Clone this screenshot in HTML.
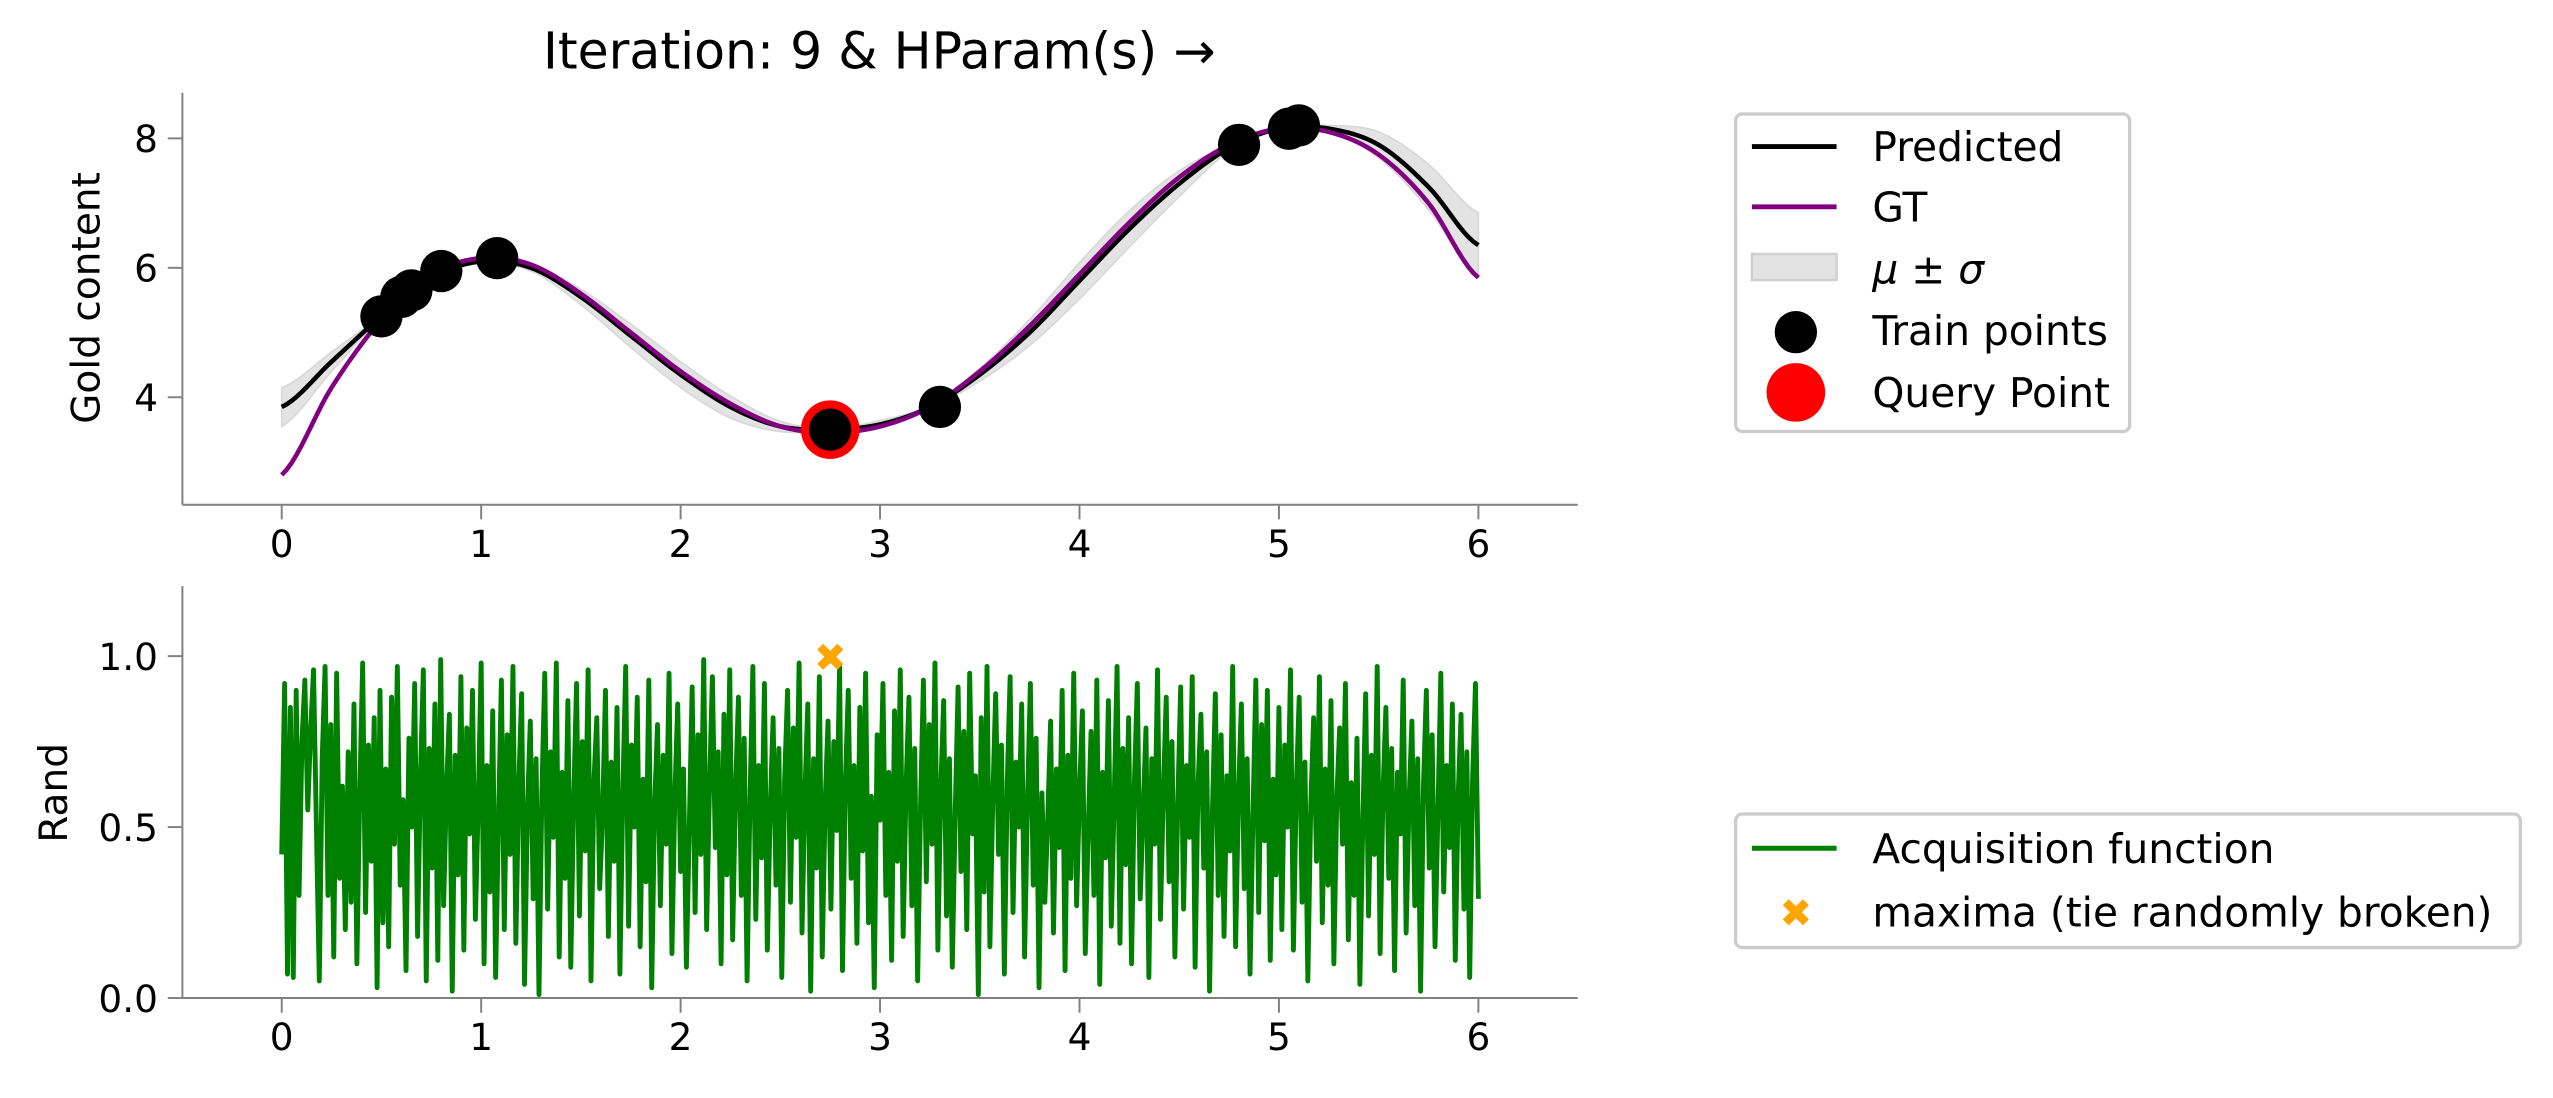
<!DOCTYPE html>
<html><head><meta charset="utf-8"><style>
html,body{margin:0;padding:0;background:#fff;}
svg{display:block;}
text{font-family:"DejaVu Sans","Liberation Sans",sans-serif;fill:#000;}
</style></head><body>
<svg id="chart" width="2553" height="1098" viewBox="0 0 1568 674.4" xmlns="http://www.w3.org/2000/svg">
<text x="540" y="42" font-size="31" text-anchor="middle">Iteration: 9 &amp; HParam(s) →</text>
<g id="top"></g>
<g id="bot"></g>
<text transform="translate(61,183) rotate(-90)" font-size="24" text-anchor="middle">Gold content</text>
<text transform="translate(41,487) rotate(-90)" font-size="24" text-anchor="middle">Rand</text>
<g>
<rect x="1066" y="70" width="242" height="195" rx="4" fill="#fff" stroke="#ccc" stroke-width="2"/>
<line x1="1076" y1="90" x2="1128" y2="90" stroke="#000" stroke-width="3"/>
<text x="1150" y="99" font-size="25">Predicted</text>
<line x1="1076" y1="127" x2="1128" y2="127" stroke="purple" stroke-width="3"/>
<text x="1150" y="136" font-size="25">GT</text>
<rect x="1076" y="156" width="52" height="16" fill="#e3e3e3" stroke="#d0d0d0" stroke-width="1.5"/>
<text x="1150" y="174" font-size="25"><tspan font-style="italic">μ</tspan> ± <tspan font-style="italic">σ</tspan></text>
<circle cx="1103" cy="204" r="13" fill="#000"/>
<text x="1150" y="212" font-size="25">Train points</text>
<circle cx="1103" cy="241" r="18" fill="red"/>
<text x="1150" y="250" font-size="25">Query Point</text>
</g>
<g>
<rect x="1066" y="500" width="482" height="82" rx="4" fill="#fff" stroke="#ccc" stroke-width="2"/>
<line x1="1076" y1="521" x2="1128" y2="521" stroke="green" stroke-width="3"/>
<text x="1150" y="530" font-size="25">Acquisition function</text>
<text x="1103" y="569" font-size="24" text-anchor="middle" font-weight="bold" style="fill:orange">✖</text>
<text x="1150" y="569" font-size="25">maxima (tie randomly broken)</text>
</g>
</svg>
<script>
const gridX = [0,0.25,0.5,0.75,1,1.25,1.5,1.75,2,2.25,2.5,2.75,3,3.25,3.5,3.75,4,4.25,4.5,4.75,5,5.25,5.5,5.75,6];
const gtValues = [2.8,4.15,5.2,5.9,6.15,6.05,5.6,5.0,4.4,3.9,3.55,3.45,3.55,3.85,4.4,5.1,5.9,6.7,7.4,7.9,8.15,8.1,7.75,7.0,5.85];
const predValues = [3.85,4.55,5.25,5.85,6.1,6.0,5.55,4.95,4.35,3.85,3.55,3.5,3.58,3.85,4.35,5.0,5.8,6.6,7.3,7.85,8.15,8.15,7.9,7.25,6.35];
const sigmaValues = [0.3,0.15,0.02,0.03,0.03,0.05,0.12,0.18,0.2,0.17,0.08,0.02,0.06,0.03,0.1,0.2,0.28,0.28,0.2,0.05,0.02,0.05,0.2,0.35,0.5];
const trainX = [0.5,0.6,0.65,0.8,1.08,2.75,3.3,4.8,5.05,5.1];
const trainY = [5.25,5.55,5.65,5.95,6.15,3.5,3.85,7.9,8.15,8.2];
const queryX = [2.75];
const queryY = [3.5];
const topYTicks = [4,6,8];
const xTicks = [0,1,2,3,4,5,6];
const botYTicks = [0.0,0.5,1.0];
const acqValues = [0.42,0.92,0.07,0.85,0.06,0.9,0.3,0.75,0.93,0.55,0.78,0.96,0.5,0.05,0.7,0.97,0.3,0.8,0.12,0.95,0.35,0.62,0.2,0.72,0.28,0.86,0.1,0.6,0.98,0.25,
0.74,0.4,0.82,0.03,0.9,0.22,0.67,0.15,0.88,0.45,0.97,0.33,0.58,0.08,0.76,0.5,0.92,0.18,0.65,0.96,0.05,0.73,0.38,0.86,0.11,0.99,0.27,0.61,0.83,0.02,
0.71,0.36,0.94,0.14,0.79,0.48,0.9,0.23,0.57,0.98,0.1,0.68,0.31,0.84,0.06,0.52,0.93,0.2,0.77,0.42,0.97,0.16,0.62,0.89,0.04,0.55,0.81,0.29,0.7,0.01,
0.6,0.95,0.26,0.72,0.47,0.98,0.12,0.66,0.35,0.87,0.09,0.58,0.92,0.24,0.75,0.43,0.96,0.05,0.63,0.82,0.32,0.53,0.9,0.18,0.69,0.4,0.85,0.07,0.6,0.97,
0.21,0.74,0.5,0.88,0.15,0.64,0.34,0.93,0.03,0.56,0.8,0.27,0.71,0.45,0.95,0.13,0.59,0.86,0.37,0.67,0.09,0.5,0.91,0.25,0.77,0.42,0.99,0.2,0.62,0.94,
0.44,0.72,0.1,0.83,0.36,0.96,0.17,0.61,0.88,0.3,0.76,0.05,0.58,0.97,0.23,0.68,0.41,0.92,0.14,0.55,0.82,0.33,0.73,0.06,0.64,0.9,0.28,0.79,0.47,0.98,
0.19,0.6,0.86,0.02,0.7,0.38,0.94,0.12,0.57,0.81,0.26,0.75,0.49,0.97,0.08,0.63,0.9,0.35,0.68,0.16,0.85,0.43,0.95,0.22,0.59,0.03,0.77,0.52,0.92,0.3,
0.66,0.11,0.84,0.4,0.96,0.18,0.62,0.88,0.27,0.73,0.05,0.56,0.93,0.34,0.8,0.45,0.98,0.14,0.61,0.87,0.24,0.7,0.09,0.54,0.91,0.37,0.78,0.2,0.95,0.48,
0.65,0.01,0.82,0.31,0.97,0.15,0.58,0.89,0.42,0.74,0.07,0.63,0.94,0.25,0.69,0.5,0.86,0.12,0.57,0.92,0.33,0.76,0.03,0.6,0.28,
0.52,0.81,0.19,0.67,0.44,0.9,0.08,0.71,0.35,0.95,0.27,0.6,0.84,0.13,0.49,0.78,0.3,0.93,0.04,0.66,0.41,0.87,0.21,0.58,0.97,0.16,0.73,0.39,0.82,0.1,
0.63,0.92,0.29,0.54,0.79,0.06,0.7,0.45,0.96,0.23,0.6,0.88,0.34,0.75,0.12,0.57,0.91,0.26,0.68,0.47,0.94,0.09,0.62,0.83,0.38,0.72,0.02,0.55,0.89,0.3,
0.77,0.18,0.65,0.43,0.97,0.15,0.59,0.86,0.32,0.7,0.07,0.53,0.93,0.25,0.8,0.46,0.9,0.11,0.64,0.36,0.85,0.2,0.74,0.5,0.96,0.14,0.61,0.88,0.28,0.69,
0.05,0.56,0.82,0.4,0.94,0.22,0.67,0.33,0.87,0.1,0.58,0.79,0.45,0.92,0.17,0.63,0.3,0.76,0.04,0.51,0.89,0.24,0.71,0.42,0.97,0.13,0.6,0.85,0.35,0.73,
0.08,0.66,0.48,0.93,0.19,0.57,0.81,0.27,0.7,0.02,0.62,0.9,0.38,0.77,0.15,0.54,0.95,0.31,0.68,0.44,0.86,0.11,0.59,0.83,0.26,0.72,0.06,0.64,0.92,0.29];
const maxX = [2.75];
const maxY = [1.0];

const NS='http://www.w3.org/2000/svg';
const topG=document.getElementById('top'), botG=document.getElementById('bot');
const X=v=>173+v*122.5;
const YT=v=>244-(v-4)*39.75;
const YB=v=>613-v*210;
function mk(tag,attrs,parent){const e=document.createElementNS(NS,tag);for(const k in attrs)e.setAttribute(k,attrs[k]);parent.appendChild(e);return e;}
function dense(xs,ys,n){const out=[];for(let i=0;i<xs.length-1;i++){const p0=ys[Math.max(0,i-1)],p1=ys[i],p2=ys[i+1],p3=ys[Math.min(ys.length-1,i+2)];for(let k=0;k<n;k++){const t=k/n,t2=t*t,t3=t2*t;const y=0.5*((2*p1)+(-p0+p2)*t+(2*p0-5*p1+4*p2-p3)*t2+(-p0+3*p1-3*p2+p3)*t3);out.push([xs[i]+(xs[i+1]-xs[i])*t,y]);}}out.push([xs[xs.length-1],ys[ys.length-1]]);return out;}

const upper=dense(gridX,predValues.map((v,i)=>v+sigmaValues[i]),10);
const lower=dense(gridX,predValues.map((v,i)=>v-sigmaValues[i]),10);
let d='M'+upper.map(p=>X(p[0]).toFixed(2)+','+YT(p[1]).toFixed(2)).join('L')+'L'+lower.reverse().map(p=>X(p[0]).toFixed(2)+','+YT(p[1]).toFixed(2)).join('L')+'Z';
const band=mk('path',{d:d,fill:'#e3e3e3',stroke:'#d8d8d8','stroke-width':1},topG);


const predPts=dense(gridX,predValues,10);
const pl=mk('polyline',{points:predPts.map(p=>X(p[0]).toFixed(2)+','+YT(p[1]).toFixed(2)).join(' '),fill:'none',stroke:'#000','stroke-width':2.8},topG);


const gtPts=dense(gridX,gtValues,10);
const gl=mk('polyline',{points:gtPts.map(p=>X(p[0]).toFixed(2)+','+YT(p[1]).toFixed(2)).join(' '),fill:'none',stroke:'purple','stroke-width':2.8},topG);


queryX.forEach((x,i)=>{const c=mk('circle',{cx:X(x),cy:YT(queryY[i]),r:18,fill:'red'},topG);

});
trainX.forEach((x,i)=>{const c=mk('circle',{cx:X(x),cy:YT(trainY[i]),r:13,fill:'#000'},topG);

});
mk('line',{x1:112,y1:57,x2:112,y2:310,stroke:'#808080','stroke-width':1.2},topG);
mk('line',{x1:112,y1:310,x2:969,y2:310,stroke:'#808080','stroke-width':1.2},topG);
topYTicks.forEach(v=>{mk('line',{x1:103,y1:YT(v),x2:112,y2:YT(v),stroke:'#808080','stroke-width':1.2},topG);
const t=mk('text',{x:97,y:YT(v)+8.5,'font-size':23,'text-anchor':'end'},topG);t.textContent=v;

});
xTicks.forEach(v=>{mk('line',{x1:X(v),y1:310,x2:X(v),y2:319,stroke:'#808080','stroke-width':1.2},topG);
const t=mk('text',{x:X(v),y:342,'font-size':23,'text-anchor':'middle'},topG);t.textContent=v;

});

const n=acqValues.length;
const al=mk('polyline',{points:acqValues.map((v,i)=>X(6*i/(n-1)).toFixed(2)+','+YB(v).toFixed(2)).join(' '),fill:'none',stroke:'green','stroke-width':3,'stroke-linejoin':'round'},botG);


maxX.forEach((x,i)=>{const t=mk('text',{x:X(x),y:YB(maxY[i])+9,'font-size':24,'text-anchor':'middle','font-weight':'bold',style:'fill:orange'},botG);t.textContent='✖';

});
mk('line',{x1:112,y1:360,x2:112,y2:613,stroke:'#808080','stroke-width':1.2},botG);
mk('line',{x1:112,y1:613,x2:969,y2:613,stroke:'#808080','stroke-width':1.2},botG);
botYTicks.forEach(v=>{mk('line',{x1:103,y1:YB(v),x2:112,y2:YB(v),stroke:'#808080','stroke-width':1.2},botG);
const t=mk('text',{x:97,y:YB(v)+8.5,'font-size':23,'text-anchor':'end'},botG);t.textContent=v.toFixed(1);

});
xTicks.forEach(v=>{mk('line',{x1:X(v),y1:613,x2:X(v),y2:622,stroke:'#808080','stroke-width':1.2},botG);
const t=mk('text',{x:X(v),y:645,'font-size':23,'text-anchor':'middle'},botG);t.textContent=v;

});
</script>
</body></html>
